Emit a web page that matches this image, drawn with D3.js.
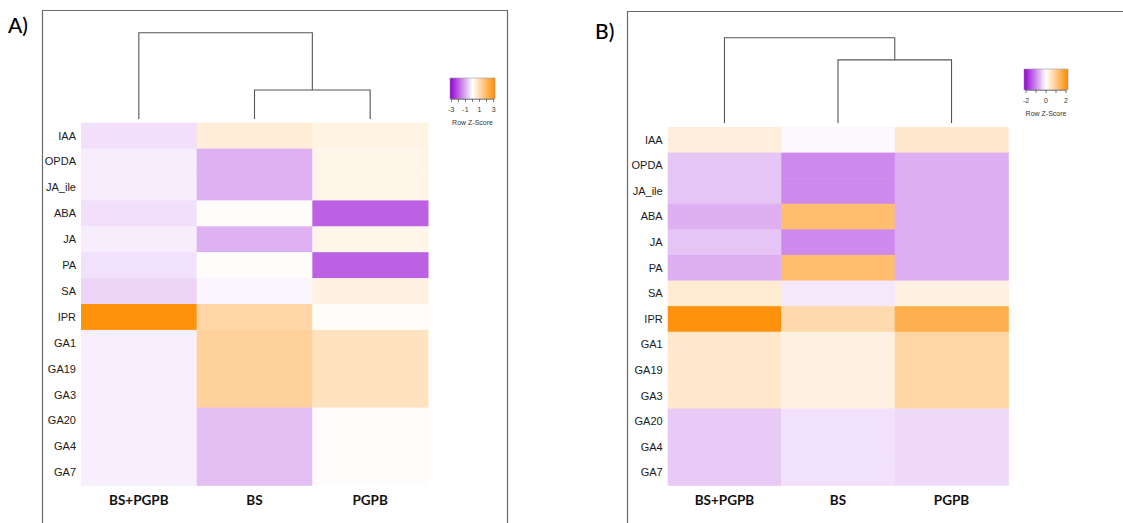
<!DOCTYPE html>
<html><head><meta charset="utf-8">
<script src="https://cdn.jsdelivr.net/npm/d3@7"></script>
<style>body{margin:0;background:#fff} svg{display:block}</style>
</head><body><svg id="c" width="1123" height="523"></svg>
<script>
// ---------- data ----------
const hormones = ["IAA","OPDA","JA_ile","ABA","JA","PA","SA","IPR","GA1","GA19","GA3","GA20","GA4","GA7"];
const treatments = ["BS+PGPB","BS","PGPB"];
const a_BSPGPB = [-0.40,-0.22,-0.22,-0.40,-0.22,-0.38,-0.53,3.05,-0.20,-0.20,-0.20,-0.20,-0.20,-0.20];
const a_BS     = [0.49,-0.98,-0.98,0.06,-0.98,0.06,-0.10,1.10,1.25,1.25,1.25,-0.80,-0.80,-0.80];
const a_PGPB   = [0.34,0.28,0.28,-2.00,0.28,-2.00,0.35,0.06,0.78,0.78,0.78,0.05,0.05,0.05];
// Panel B row z-scores
const b_BSPGPB = [0.33,-0.51,-0.51,-0.68,-0.51,-0.68,0.39,2.10,0.44,0.44,0.44,-0.46,-0.46,-0.46];
const b_BS     = [-0.06,-1.02,-1.02,1.24,-1.02,1.24,-0.20,0.70,0.26,0.26,0.26,-0.26,-0.26,-0.26];
const b_PGPB   = [0.44,-0.70,-0.70,-0.70,-0.70,-0.70,0.26,1.54,0.79,0.79,0.79,-0.33,-0.33,-0.33];
// colour keys
const keyTicksA = [-3,-2,-1,0,1,2,3];
const keyLabelsA = [-3,-1,1,3];
const keyRangeA = [-3.2,3.2];
const keyTicksB = [-2,-1,0,1,2];
const keyLabelsB = [-2,0,2];
const keyRangeB = [-2.2,2.2];
// dendrogram merge heights: [BS with PGPB, root]
const dendroA = [1.0, 2.97];
const dendroB = [2.85, 3.85];

// ---------- drawing ----------
const svg = d3.select("#c");
const lineCol = "#6a6a6a";

function panel(cfg){
  const g = svg.append("g");
  const cols = [cfg.c1, cfg.c2, cfg.c3];
  const x = d3.scaleBand().domain(treatments).range([cfg.hx0, cfg.hx1]);
  const y = d3.scaleBand().domain(hormones).range([cfg.hy0, cfg.hy1]);
  const col = d3.scaleLinear().domain([cfg.range[0],0,cfg.range[1]]).range(["#9400d3","#ffffff","#ff8c00"]).clamp(true);
  const cells = [];
  treatments.forEach((t,j)=>hormones.forEach((h,i)=>cells.push({t,h,v:cols[j][i]})));
  g.selectAll("rect.cell").data(cells).join("rect").attr("class","cell")
    .attr("x",d=>x(d.t)).attr("y",d=>y(d.h))
    .attr("width",x.bandwidth()+0.5).attr("height",y.bandwidth()+0.5)
    .attr("fill",d=>col(d.v));
  // row labels
  g.selectAll("text.row").data(hormones).join("text").attr("class","row")
    .attr("x",cfg.hx0-5).attr("y",d=>y(d)+y.bandwidth()/2).attr("dy","0.35em")
    .attr("text-anchor","end").attr("font-family","'Liberation Sans',Arial,sans-serif")
    .attr("font-size",11).attr("fill","#1a1a1a").text(d=>d);
  // column labels
  g.selectAll("text.col").data(treatments).join("text").attr("class","col")
    .attr("x",d=>x(d)+x.bandwidth()/2).attr("y",505)
    .attr("text-anchor","middle").attr("font-family","Lato,'Open Sans',sans-serif")
    .attr("font-weight",700).attr("font-size",13.5).attr("fill","#111").text(d=>d);
  // dendrogram
  const dy = d3.scaleLinear().domain([0, cfg.dendro[1]]).range([cfg.leafY, cfg.rootY]);
  const cx = t => x(t)+x.bandwidth()/2;
  const sub = (cx("BS")+cx("PGPB"))/2;
  const segs = [
    [[cx("BS"),dy(0)],[cx("BS"),dy(cfg.dendro[0])],[cx("PGPB"),dy(cfg.dendro[0])],[cx("PGPB"),dy(0)]],
    [[cx("BS+PGPB"),dy(0)],[cx("BS+PGPB"),dy(cfg.dendro[1])],[sub,dy(cfg.dendro[1])],[sub,dy(cfg.dendro[0])]]
  ];
  g.selectAll("path.dend").data(segs).join("path").attr("class","dend")
    .attr("d",d3.line()).attr("fill","none").attr("stroke","#555").attr("stroke-width",1.1);
  // colour key
  const kx = d3.scaleLinear().domain(cfg.range).range([cfg.kx0,cfg.kx1]);
  const gid = "grad"+cfg.id;
  const grad = svg.append("defs").append("linearGradient").attr("id",gid);
  d3.range(0,1.0001,0.05).forEach(s=>{
    grad.append("stop").attr("offset",s).attr("stop-color",col(cfg.range[0]+s*(cfg.range[1]-cfg.range[0])));
  });
  g.append("rect").attr("x",cfg.kx0).attr("y",cfg.ky0).attr("width",cfg.kx1-cfg.kx0).attr("height",cfg.ky1-cfg.ky0)
    .attr("fill",`url(#${gid})`).attr("stroke","#999").attr("stroke-width",0.6);
  g.selectAll("line.kt").data(cfg.ticks).join("line").attr("class","kt")
    .attr("x1",d=>kx(d)).attr("x2",d=>kx(d)).attr("y1",cfg.ky1).attr("y2",cfg.ky1+3)
    .attr("stroke","#444").attr("stroke-width",0.7);
  g.append("line").attr("x1",kx(cfg.ticks[0])).attr("x2",kx(cfg.ticks[cfg.ticks.length-1]))
    .attr("y1",cfg.ky1+0.3).attr("y2",cfg.ky1+0.3).attr("stroke","#444").attr("stroke-width",0.6);
  g.selectAll("text.kl").data(cfg.labels).join("text").attr("class","kl")
    .attr("x",d=>kx(d)).attr("y",cfg.ky1+13).attr("text-anchor","middle")
    .attr("font-family","'Liberation Sans',Arial,sans-serif").attr("font-size",7).attr("fill","#333").text(d=>d);
  g.append("text").attr("x",(cfg.kx0+cfg.kx1)/2).attr("y",cfg.ky1+26).attr("text-anchor","middle")
    .attr("font-family","'Liberation Sans',Arial,sans-serif").attr("font-size",7).attr("fill","#333").text("Row Z-Score");
  // panel letter
  g.append("text").attr("x",cfg.lx).attr("y",cfg.ly).attr("font-family","Lato,'Open Sans',sans-serif")
    .attr("font-size",21).attr("font-weight",500).attr("fill","#000").text(cfg.letter);
}

// frames
svg.append("path").attr("d","M42.5,530V10.5H507.5V530").attr("fill","none").attr("stroke",lineCol).attr("stroke-width",1.2);
svg.append("path").attr("d","M627.5,530V11.5H1125").attr("fill","none").attr("stroke",lineCol).attr("stroke-width",1.2);

panel({id:"A",c1:a_BSPGPB,c2:a_BS,c3:a_PGPB,hx0:81,hx1:428,hy0:122.7,hy1:485.3,
  range:keyRangeA,ticks:keyTicksA,labels:keyLabelsA,dendro:dendroA,leafY:119,rootY:32.7,
  kx0:450,kx1:495,ky0:78,ky1:99,letter:"A)",lx:8,ly:33});
panel({id:"B",c1:b_BSPGPB,c2:b_BS,c3:b_PGPB,hx0:667.7,hx1:1008.3,hy0:127,hy1:485.3,
  range:keyRangeB,ticks:keyTicksB,labels:keyLabelsB,dendro:dendroB,leafY:123,rootY:37.7,
  kx0:1024,kx1:1068,ky0:69,ky1:90,letter:"B)",lx:595,ly:39});
</script></body></html>
